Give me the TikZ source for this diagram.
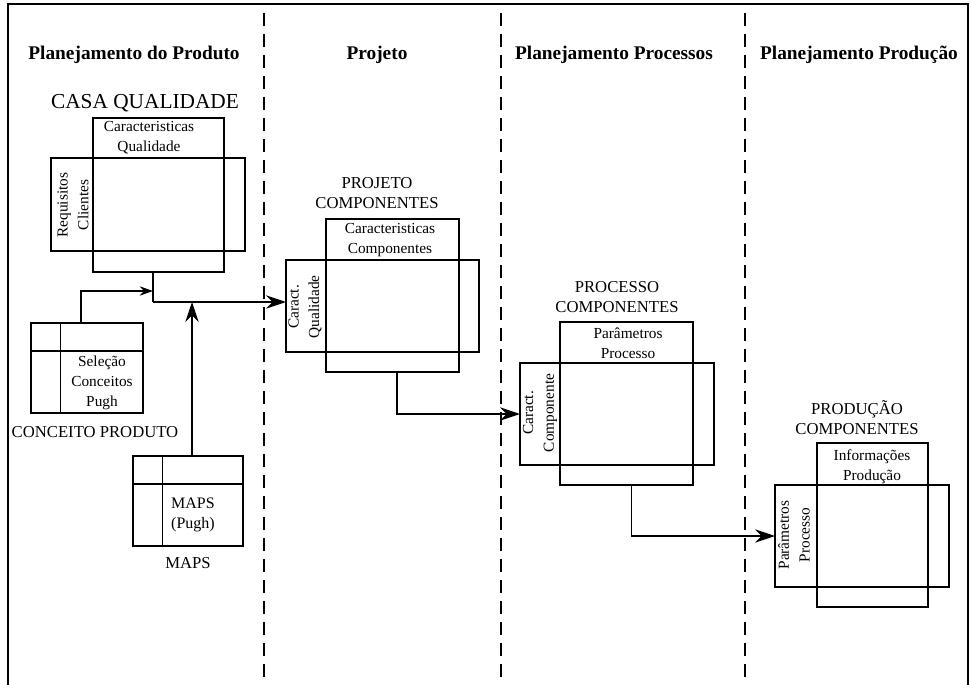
\documentclass[tikz,border=0pt]{standalone}
\usepackage{fontspec}
\setmainfont{Liberation Serif}
\usetikzlibrary{arrows.meta}

\tikzset{
  box/.style={draw, line width=0.9pt, inner sep=0pt, outer sep=0pt},
  gridbox/.style={box, path picture={
    \draw[line width=0.9pt] ([yshift=-21pt]path picture bounding box.north west) -- ([yshift=-21pt]path picture bounding box.north east);
    \draw[line width=0.9pt] ([xshift=22pt]path picture bounding box.north west) -- ([xshift=22pt]path picture bounding box.south west);}},
  phase/.style={font=\bfseries\fontsize{14.5}{17}\selectfont},
  title/.style={align=center, font=\fontsize{12.5}{15}\selectfont, inner sep=0pt},
  lbl/.style={align=center, font=\fontsize{11.5}{15}\selectfont, inner sep=0pt},
  side/.style={align=center, font=\fontsize{11.5}{15.5}\selectfont, inner sep=0pt, rotate=90},
  flow/.style={line width=0.9pt, -{Stealth[length=15pt,width=10pt]}},
  divider/.style={line width=1.2pt, dash pattern=on 9.75pt off 6pt},
}

\begin{document}
\begin{tikzpicture}[x=0.75pt, y=-0.75pt]
\useasboundingbox (0,0) rectangle (971,685);
\draw[line width=1pt] (8,685) -- (8,4) -- (968,4) -- (968,685);

\foreach \x in {264,501,745}
  \draw[divider] (\x,13) -- (\x,685);

% phases
\node[phase] (hProduto) at (134,55) {Planejamento do Produto};
\node[phase] (hProjeto) at (377,55) {Projeto};
\node[phase] (hProcessos) at (614,55) {Planejamento Processos};
\node[phase] (hProducao) at (859,55) {Planejamento Produção};

% casa da qualidade
\node[title, font=\fontsize{16}{18}\selectfont] (casaTitle) at (145,103) {CASA QUALIDADE};
\node[box, minimum width=98.25pt, minimum height=115.5pt] (casaTop) at (158.5,195) {};
\node[box, minimum width=145.5pt, minimum height=69.75pt] (casaWide) at (148,204.5) {};
\node[lbl] (casaCols) at (149,138) {Caracteristicas\\Qualidade};
\node[side] (casaRows) at (73,205) {Requisitos\\Clientes};

% conceito e maps
\node[gridbox, minimum width=84pt, minimum height=67.5pt] (conceito) at (87,368) {};
\node[lbl] (conceitoTxt) at (102,383) {Seleção\\Conceitos\\Pugh};
\node[title] (conceitoName) at (95,432) {CONCEITO PRODUTO};
\node[gridbox, minimum width=82.5pt, minimum height=67.5pt] (maps) at (188,501) {};
\node[lbl, font=\fontsize{12}{15}\selectfont] (mapsTxt) at (193,515) {MAPS\\(Pugh)};
\node[title] (mapsName) at (188,563) {MAPS};

% projeto componentes
\node[title] (projTitle) at (377,193) {PROJETO\\COMPONENTES};
\node[box, minimum width=99.75pt, minimum height=114.75pt] (projTop) at (392.5,295.5) {};
\node[box, minimum width=144.75pt, minimum height=69pt] (projWide) at (382.5,306) {};
\node[lbl] (projCols) at (390,240) {Caracteristicas\\Componentes};
\node[side] (projRows) at (305,307) {Caract.\\Qualidade};

% processo componentes
\node[title] (procTitle) at (617,297) {PROCESSO\\COMPONENTES};
\node[box, minimum width=99.75pt, minimum height=122.25pt] (procTop) at (626.5,403.5) {};
\node[box, minimum width=145.5pt, minimum height=76.5pt] (procWide) at (617,414) {};
\node[lbl] (procCols) at (628,343) {Parâmetros\\Processo};
\node[side] (procRows) at (540,413) {Caract.\\Componente};

% producao componentes
\node[title] (prodTitle) at (857,418) {PRODUÇÃO\\COMPONENTES};
\node[box, minimum width=83.25pt, minimum height=123pt] (prodTop) at (872.5,525) {};
\node[box, minimum width=130.5pt, minimum height=76.5pt] (prodWide) at (862,536) {};
\node[lbl] (prodCols) at (872,467) {Informações\\Produção};
\node[side] (prodRows) at (794,535) {Parâmetros\\Processo};

% ligacoes
\coordinate (joint) at (153,302);
\coordinate (feed) at (153,291);
\draw[line width=0.9pt] (joint |- casaTop.south) -- (joint);
\draw[flow] (joint) -- (joint -| projWide.west);
\draw[flow, -{Stealth[length=10pt,width=7pt]}] ([xshift=-4.5pt]conceito.north) |- (feed);
\draw[flow] ([xshift=3pt]maps.north) -- ([xshift=3pt]maps.north |- joint);
\draw[flow] ([xshift=3.4pt]projTop.south) |- (procWide.west);
\draw[flow] ([xshift=4pt]procTop.south) |- (prodWide.west);
\end{tikzpicture}
\end{document}
